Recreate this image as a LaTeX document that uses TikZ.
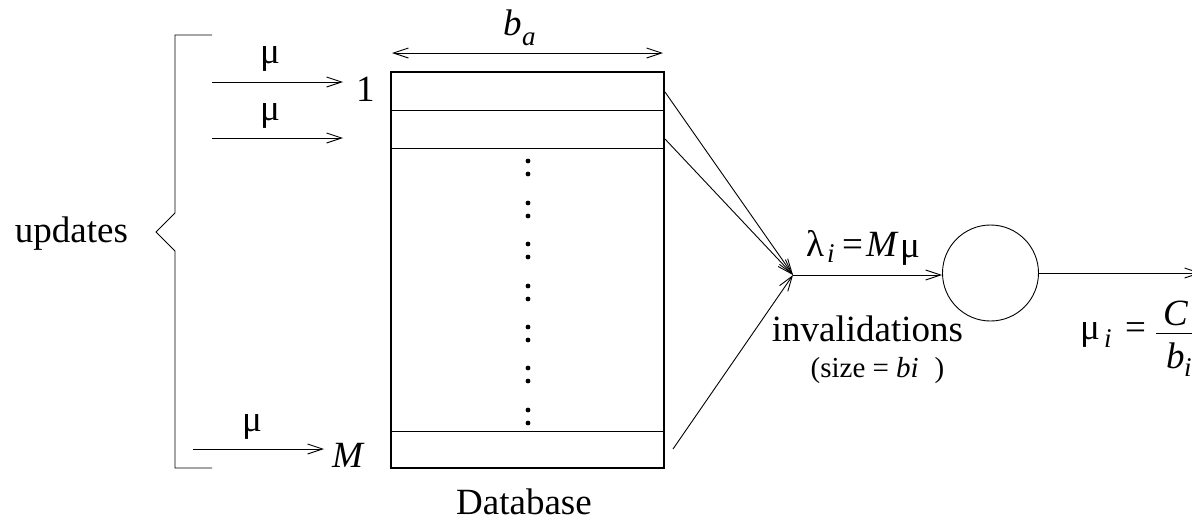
\documentclass[tikz,border=0pt]{standalone}
\usepackage{fontspec}
\setmainfont{Liberation Serif}
\usetikzlibrary{arrows.meta}
\tikzset{
  tip/.tip={Straight Barb[length=15pt,width=10pt,line width=0.9pt]},
  arr/.style={-tip, line width=0.9pt},
  dblarr/.style={tip-tip, line width=0.9pt},
  thin line/.style={line width=0.9pt},
  lbl/.style={inner sep=0pt, font=\fontsize{37}{42}\selectfont},
  sublbl/.style={inner sep=0pt, font=\fontsize{27}{30}\selectfont\itshape},
  small lbl/.style={inner sep=0pt, font=\fontsize{29}{34}\selectfont},
  dbbox/.style={draw, line width=1.8pt, minimum width=273pt, minimum height=396pt, inner sep=0pt},
  queue/.style={draw, circle, line width=0.9pt, minimum size=96pt, inner sep=0pt},
  dbdot/.style={fill=black}
}
\begin{document}
\begin{tikzpicture}[x=1pt,y=-1pt]
\useasboundingbox (0,0) rectangle (1192,520);

% database
\node[dbbox] (db) at (527.5,270) {};
\draw[thin line] (391,110) -- (664,110);
\draw[thin line] (391,148) -- (664,148);
\draw[thin line] (391,431) -- (664,431);
\foreach \y in {161,203,244,286,327,368,410} {
  \fill[dbdot] (528,\y) circle (2.4pt);
  \fill[dbdot] (528,\y+13) circle (2.4pt);
}
\node[lbl, anchor=base] (dbl) at (524,514) {Database};

% width arrow
\coordinate (wl) at (392,53);
\coordinate (wr) at (663,53);
\draw[dblarr] (wl) -- (wr);
\node[lbl, anchor=base west] (bb) at (503,35) {\itshape b};
\node[sublbl, anchor=base west] (ba) at (522,45) {a};

% brace
\draw[thin line] (212,35) -- (175,35) -- (175,213) -- (156,232) -- (175,251) -- (175,468) -- (212,468);
\node[lbl, anchor=base] (upd) at (71.5,242) {updates};

% update arrows
\coordinate (u1s) at (212,82);
\coordinate (u1e) at (343,82);
\coordinate (u2s) at (212,138);
\coordinate (u2e) at (343,138);
\coordinate (u3s) at (193,449);
\coordinate (u3e) at (324,449);
\draw[arr] (u1s) -- (u1e);
\draw[arr] (u2s) -- (u2e);
\draw[arr] (u3s) -- (u3e);
\node[lbl, anchor=base] (m1) at (270,63) {μ};
\node[lbl, anchor=base] (m2) at (270,120) {μ};
\node[lbl, anchor=base] (m3) at (252,431) {μ};
\node[lbl, anchor=base west] (one) at (356,101) {1};
\node[lbl, anchor=base west] (bigm) at (332,467) {\itshape M};

% invalidation lines
\coordinate (r1) at (665,92);
\coordinate (r2) at (665,139);
\coordinate (r3) at (673,449);
\coordinate (conv) at (793,275);
\draw[arr] (r1) -- (conv);
\draw[arr] (r2) -- (conv);
\draw[arr] (r3) -- (conv);

% queue
\node[queue] (q) at (990.5,273) {};
\draw[arr] (conv) -- (q.west |- conv);
\coordinate (out) at (1201,273);
\draw[arr] (q.east) -- (out);

% arrival rate
\node[lbl, anchor=base west] (lam) at (806,256) {λ};
\node[sublbl, anchor=base west] (lami) at (827,262) {i};
\node[lbl, anchor=base west] (lameq) at (842,256) {=};
\node[lbl, anchor=base west] (lamm) at (866,256) {\itshape M};
\node[lbl, anchor=base west] (lammu) at (900,257) {μ};
\node[lbl, anchor=base] (inv) at (867.5,341) {invalidations};
\node[small lbl, anchor=base] (size) at (877.5,377) {(size = \textit{bi}\hspace{0.55em})};

% service rate
\node[lbl, anchor=base west] (mu) at (1080,339) {μ};
\node[sublbl, anchor=base west] (mui) at (1104,347) {i};
\node[lbl, anchor=base west] (eq) at (1125,339) {=};
\coordinate (barl) at (1156,333);
\coordinate (barr) at (1215,333);
\draw[line width=1pt] (barl) -- (barr);
\node[lbl, anchor=base west] (cc) at (1163,325) {\itshape C};
\node[lbl, anchor=base west] (bi) at (1166,368) {\itshape b};
\node[sublbl, anchor=base west] (bis) at (1184,376) {i};
\end{tikzpicture}
\end{document}
